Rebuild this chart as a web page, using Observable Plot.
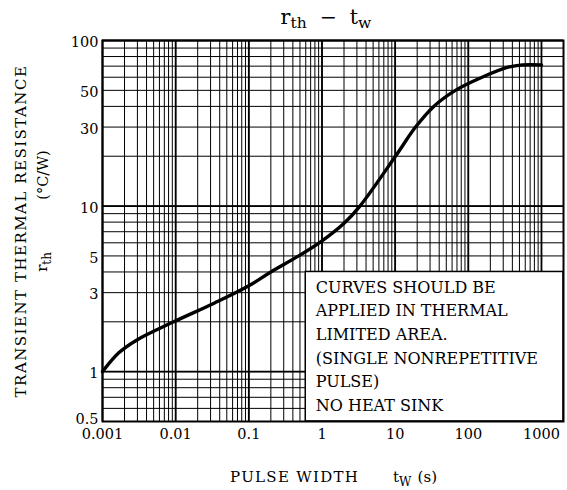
<!DOCTYPE html>
<html><head><meta charset="utf-8">
<script src="https://cdn.jsdelivr.net/npm/d3@7"></script>
<script src="https://cdn.jsdelivr.net/npm/@observablehq/plot@0.6"></script>
<style>body{margin:0;background:#fff} svg{display:block}</style>
</head><body><div id="chart"></div>
<script>
// Curve data (pulse width tw [s], transient thermal resistance rth [°C/W])
const tw  = [0.001, 0.00167, 0.003, 0.0094, 0.0335, 0.1, 0.2, 0.48, 0.97, 2.02, 3.3, 10.1, 19, 33.7, 66.7, 154, 350, 550, 1000];
const rth = [1.0,   1.30,    1.56,  2.0,    2.59,   3.30, 4.0, 5.0, 6.1,  7.9,  10,  20,   30, 40,   50,   60,  69,  71.3, 71.3];

const xTicks = [0.001, 0.01, 0.1, 1, 10, 100, 1000];
const xTickLabels = ["0.001", "0.01", "0.1", "1", "10", "100", "1000"];
const yTicks = [0.5, 1, 3, 5, 10, 30, 50, 100];
const yTickLabels = ["0.5", "1", "3", "5", "10", "30", "50", "100"];
const xDomain = [0.001, 2000];
const yDomain = [0.5, 100];
const xDecades = [0.001, 0.01, 0.1, 1, 10, 100];
const yDecades = [0.1, 1, 10];
const mults = [1, 2, 3, 4, 5, 6, 7, 8, 9];

const noteLines = ["CURVES SHOULD BE", "APPLIED IN THERMAL", "LIMITED AREA.", "(SINGLE NONREPETITIVE", "PULSE)", "NO HEAT SINK"];
const noteX = 0.6, noteY = 4;

const xGrid = xDecades.flatMap(d => mults.map(m => d * m)).concat([1000]);
const yGrid = yDecades.flatMap(d => mults.map(m => d * m)).concat([100]).filter(v => v >= 0.5 - 1e-9);
const xMajor = xTicks;
const yMajor = [1, 10, 100];

const data = tw.map((t, i) => ({t, r: rth[i]}));
const yLab = yTicks.map((v, i) => ({v, label: yTickLabels[i]}));

const svg = Plot.plot({
  width: 567, height: 490,
  marginLeft: 102, marginRight: 4, marginTop: 40, marginBottom: 69,
  style: {fontFamily: "DejaVu Serif", fontSize: "14.5px", color: "#000", background: "#fff"},
  x: {type: "log", domain: xDomain, axis: null},
  y: {type: "log", domain: yDomain, axis: null},
  marks: [
    Plot.ruleX(xGrid, {stroke: "#000", strokeWidth: 1}),
    Plot.ruleY(yGrid, {stroke: "#000", strokeWidth: 1}),
    Plot.ruleX(xMajor, {stroke: "#000", strokeWidth: 1.8}),
    Plot.ruleY(yMajor, {stroke: "#000", strokeWidth: 1.8}),
    Plot.rect([0], {x1: noteX, x2: xDomain[1], y1: yDomain[0], y2: noteY, fill: "#fff", stroke: "#000", strokeWidth: 1.5}),
    Plot.text([noteLines.join("\n")], {x: noteX, y: noteY, text: d => d, textAnchor: "start", lineAnchor: "top", dx: 10, dy: 4, lineHeight: 1.48, fontSize: 16, fill: "#000", ariaLabel: "note"}),
    Plot.line(data, {x: "t", y: "r", stroke: "#000", strokeWidth: 3.4, curve: "catmull-rom"}),
    Plot.text(xTicks, {x: d => d, text: (d, i) => xTickLabels[i], frameAnchor: "bottom", lineAnchor: "top", dy: 7, fontSize: 14.5, fill: "#000"}),
    Plot.text(yLab.slice(1), {y: "v", text: "label", frameAnchor: "left", textAnchor: "end", dx: -4, dy: 2, fontSize: 14.5, fill: "#000"}),
    Plot.text(yLab.slice(0, 1), {y: "v", text: "label", frameAnchor: "left", textAnchor: "end", lineAnchor: "bottom", dx: -4, dy: 2, fontSize: 14.5, fill: "#000"}),
    Plot.frame({stroke: "#000", strokeWidth: 2})
  ]
});

const s = d3.select(svg);
s.selectAll("g[aria-label=note] text").attr("letter-spacing", 1.15);
const font = "DejaVu Serif";
// Title
const title = s.append("text").attr("x", 326).attr("y", 24).attr("text-anchor", "middle")
  .attr("font-family", font).attr("font-size", 20.5).attr("fill", "#000").attr("xml:space", "preserve");
title.append("tspan").text("r");
title.append("tspan").attr("font-size", 15.5).attr("dy", 4).text("th");
title.append("tspan").attr("dy", -4).text("  \u2212  t");
title.append("tspan").attr("font-size", 15.5).attr("dy", 4).text("w");

// X axis label
s.append("text").attr("x", 230).attr("y", 482).attr("text-anchor", "start")
  .attr("font-family", font).attr("font-size", 15).attr("letter-spacing", 1.3).attr("fill", "#000")
  .text("PULSE WIDTH");
const tw2 = s.append("text").attr("x", 393).attr("y", 482).attr("text-anchor", "start")
  .attr("font-family", font).attr("font-size", 15).attr("fill", "#000");
tw2.append("tspan").text("t");
tw2.append("tspan").attr("font-size", 12).attr("dy", 4).text("W");
s.append("text").attr("x", 437).attr("y", 482).attr("text-anchor", "end")
  .attr("font-family", font).attr("font-size", 15).attr("fill", "#000")
  .text("(s)");

// Y axis label (two lines)
s.append("text").attr("transform", "translate(26,231) rotate(-90)").attr("text-anchor", "middle")
  .attr("font-family", font).attr("font-size", 15).attr("letter-spacing", 1.5).attr("fill", "#000")
  .text("TRANSIENT THERMAL RESISTANCE");
const yl2 = s.append("text").attr("transform", "translate(47,262) rotate(-90)").attr("text-anchor", "middle")
  .attr("font-family", font).attr("font-size", 15).attr("fill", "#000");
yl2.append("tspan").text("r");
yl2.append("tspan").attr("font-size", 12).attr("dy", 4).text("th");
s.append("text").attr("transform", "translate(48,175) rotate(-90)").attr("text-anchor", "middle")
  .attr("font-family", font).attr("font-size", 14.5).attr("fill", "#000")
  .text("(\u00B0C/W)");

document.getElementById("chart").append(svg);
</script>
</body></html>
